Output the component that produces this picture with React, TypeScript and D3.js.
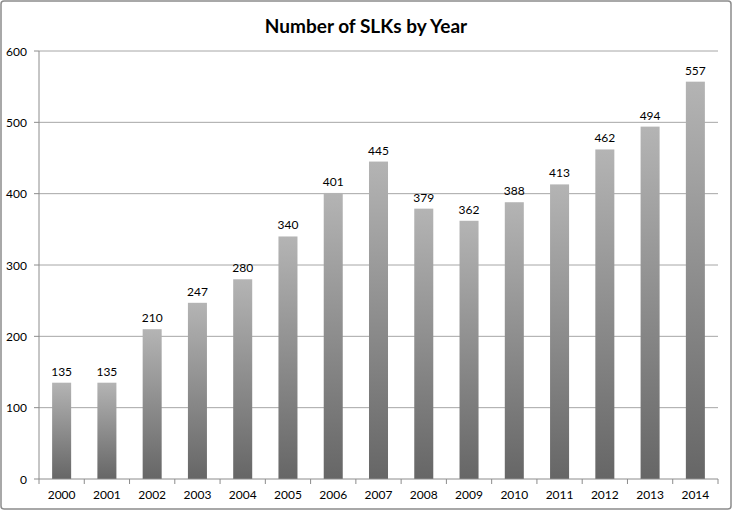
import React from "react";
import * as d3 from "d3";

const years = ["2000","2001","2002","2003","2004","2005","2006","2007","2008","2009","2010","2011","2012","2013","2014"];
const counts = [135,135,210,247,280,340,401,445,379,362,388,413,462,494,557];
const yTicks = [0,100,200,300,400,500,600];
const title = "Number of SLKs by Year";

export default function App() {
  const W = 733, H = 511;
  const left = 39, right = 718, top = 51, bottom = 479;
  const x = d3.scaleBand<string>().domain(years).range([left, right]).paddingInner(0.58).paddingOuter(0.29);
  const xb = d3.scaleBand<string>().domain(years).range([left, right]);
  const y = d3.scaleLinear().domain([0, 600]).range([bottom, top]);
  const font = "Lato, 'Open Sans', sans-serif";
  return (
    <svg width={W} height={H} style={{ position: "absolute", left: 0, top: 0, background: "#fff" }} fontFamily={font}>
      <defs>
        <linearGradient id="barg" x1="0" y1="0" x2="0" y2="1">
          <stop offset="0" stopColor="#b4b4b4" />
          <stop offset="1" stopColor="#666666" />
        </linearGradient>
      </defs>
      <rect x={1} y={1} width={W - 3} height={H - 3} rx={3} fill="#fff" stroke="#8c8c8c" strokeWidth={1.5} />
      <text x={366} y={33} textAnchor="middle" fontSize={19} fontWeight="bold" fill="#000">{title}</text>
      {yTicks.map(t => (
        <g key={t}>
          {t > 0 && <line x1={left} x2={right} y1={y(t)} y2={y(t)} stroke="#a6a6a6" strokeWidth={1} />}
          <line x1={left - 5} x2={left} y1={y(t)} y2={y(t)} stroke="#8c8c8c" />
          <text x={27} y={y(t) + 4.5} textAnchor="end" fontSize={12} fill="#000">{t}</text>
        </g>
      ))}
      {years.map((yr, i) => (
        <g key={yr}>
          <rect x={x(yr)} y={y(counts[i])} width={x.bandwidth()} height={bottom - y(counts[i])} fill="url(#barg)" />
          <text x={(x(yr) as number) + x.bandwidth() / 2} y={y(counts[i]) - 7} textAnchor="middle" fontSize={12} fill="#000">{counts[i]}</text>
          <text x={(xb(yr) as number) + xb.bandwidth() / 2} y={499} textAnchor="middle" fontSize={12} fill="#000">{yr}</text>
        </g>
      ))}
      {years.concat(["end"]).map((yr, i) => {
        const px = left + i * xb.bandwidth();
        return <line key={yr} x1={px} x2={px} y1={bottom} y2={bottom + 5} stroke="#8c8c8c" />;
      })}
      <line x1={left} x2={left} y1={top} y2={bottom} stroke="#8c8c8c" />
      <line x1={left} x2={right} y1={bottom} y2={bottom} stroke="#8c8c8c" />
    </svg>
  );
}
